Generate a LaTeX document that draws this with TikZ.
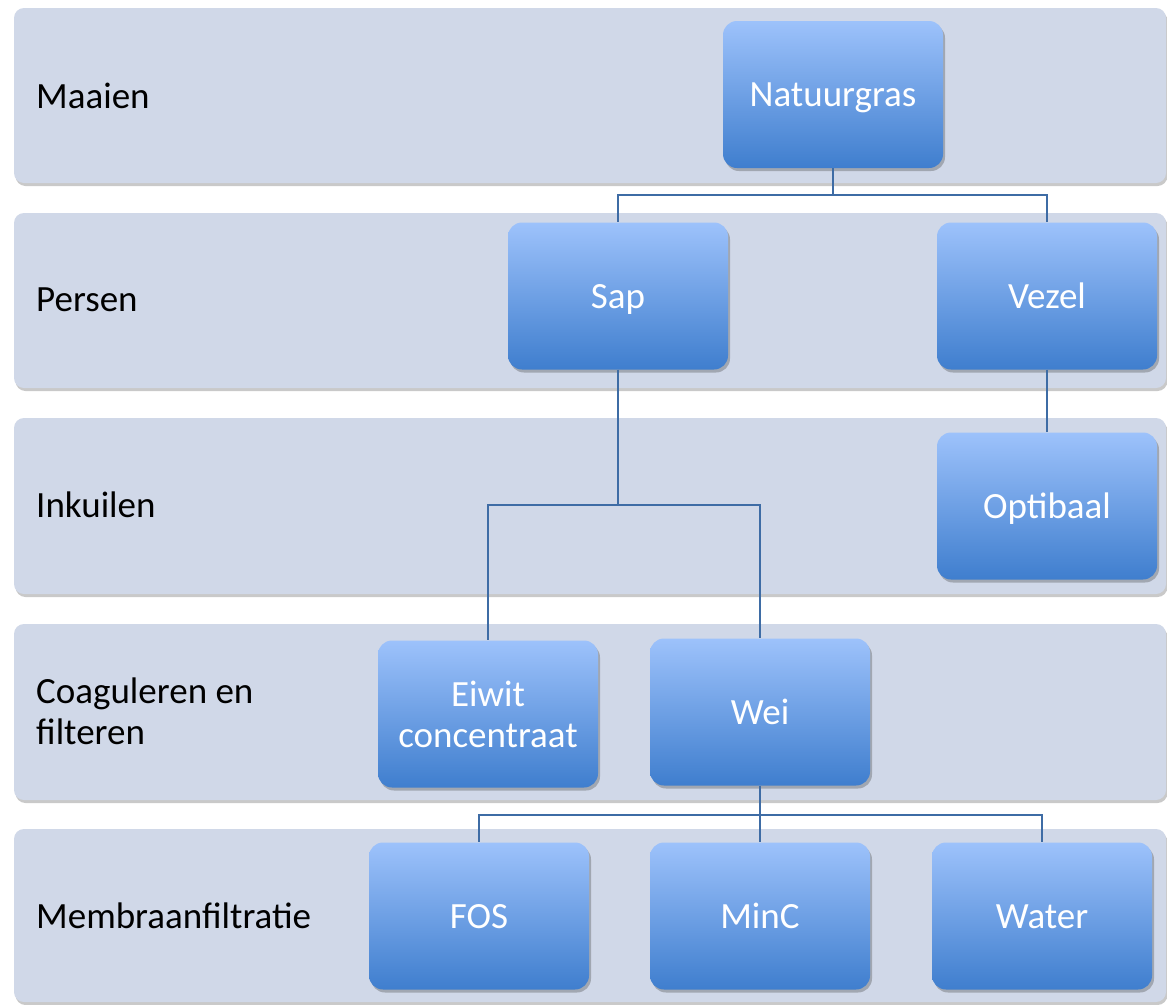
\documentclass[tikz,border=0pt]{standalone}
\usepackage{fontspec}
\setmainfont{Carlito}
\usetikzlibrary{shadows}
\definecolor{bandfill}{HTML}{D0D8E8}
\definecolor{boxtop}{HTML}{9DC2FB}
\definecolor{boxbot}{HTML}{3F7ECE}
\definecolor{connc}{HTML}{3E6CA5}
\tikzset{
  band/.style={fill=bandfill, rounded corners=10pt, drop shadow={shadow xshift=1.5pt, shadow yshift=-3pt, opacity=0.35, fill=black!60}},
  blockbox/.style={rounded corners=14pt, top color=boxtop, bottom color=boxbot, minimum width=220pt, minimum height=147pt, text=white, font=\fontsize{37}{41}\selectfont, align=center, inner sep=0pt, drop shadow={shadow xshift=2pt, shadow yshift=-3pt, opacity=0.35, fill=black!70}},
  oneline/.style={text height=24pt, text depth=0pt},
  lbl/.style={anchor=west, font=\fontsize{37}{41}\selectfont, align=left, inner sep=0pt, text=black},
  conn/.style={draw=connc, line width=1.5pt}
}
\begin{document}
\begin{tikzpicture}[x=1pt,y=-1pt]
\useasboundingbox (0,0) rectangle (1167,1004);
\clip (0,0) rectangle (1167,1004);
\fill[white] (0,0) rectangle (1167,1004);
% bands
\path[band] (14,8) rectangle (1166,183);
\path[band] (14,213) rectangle (1166,388);
\path[band] (14,418) rectangle (1166,594);
\path[band] (14,624) rectangle (1166,800);
\path[band] (14,829) rectangle (1166,1002);
% labels
\node[lbl] (l1) at (36,96) {Maaien};
\node[lbl] (l2) at (36,300) {Persen};
\node[lbl] (l3) at (36,505) {Inkuilen};
\node[lbl] (l4) at (36,711) {Coaguleren en\\filteren};
\node[lbl] (l5) at (36,916) {Membraanfiltratie};
% boxes
\node[blockbox, oneline] (nat) at (833,94.5) {Natuurgras};
\node[blockbox, oneline] (sap) at (618,296) {Sap};
\node[blockbox, oneline] (vez) at (1047,296) {Vezel};
\node[blockbox, oneline] (opt) at (1047,506) {Optibaal};
\node[blockbox] (eiw) at (488,714) {Eiwit\\concentraat};
\node[blockbox, oneline] (wei) at (760,712) {Wei};
\node[blockbox, oneline] (fos) at (479,916) {FOS};
\node[blockbox, oneline] (minc) at (760,916) {MinC};
\node[blockbox, oneline] (water) at (1042,916) {Water};
% junctions
\coordinate (j1) at (833,195);
\coordinate (j2) at (618,505);
\coordinate (j3) at (760,815);
% connectors
\draw[conn] (nat.south) -- (j1);
\draw[conn] (j1) -| (sap.north);
\draw[conn] (j1) -| (vez.north);
\draw[conn] (vez.south) -- (opt.north);
\draw[conn] (sap.south) -- (j2);
\draw[conn] (j2) -| (eiw.north);
\draw[conn] (j2) -| (wei.north);
\draw[conn] (wei.south) -- (j3);
\draw[conn] (j3) -| (fos.north);
\draw[conn] (j3) -- (minc.north);
\draw[conn] (j3) -| (water.north);
\end{tikzpicture}
\end{document}
